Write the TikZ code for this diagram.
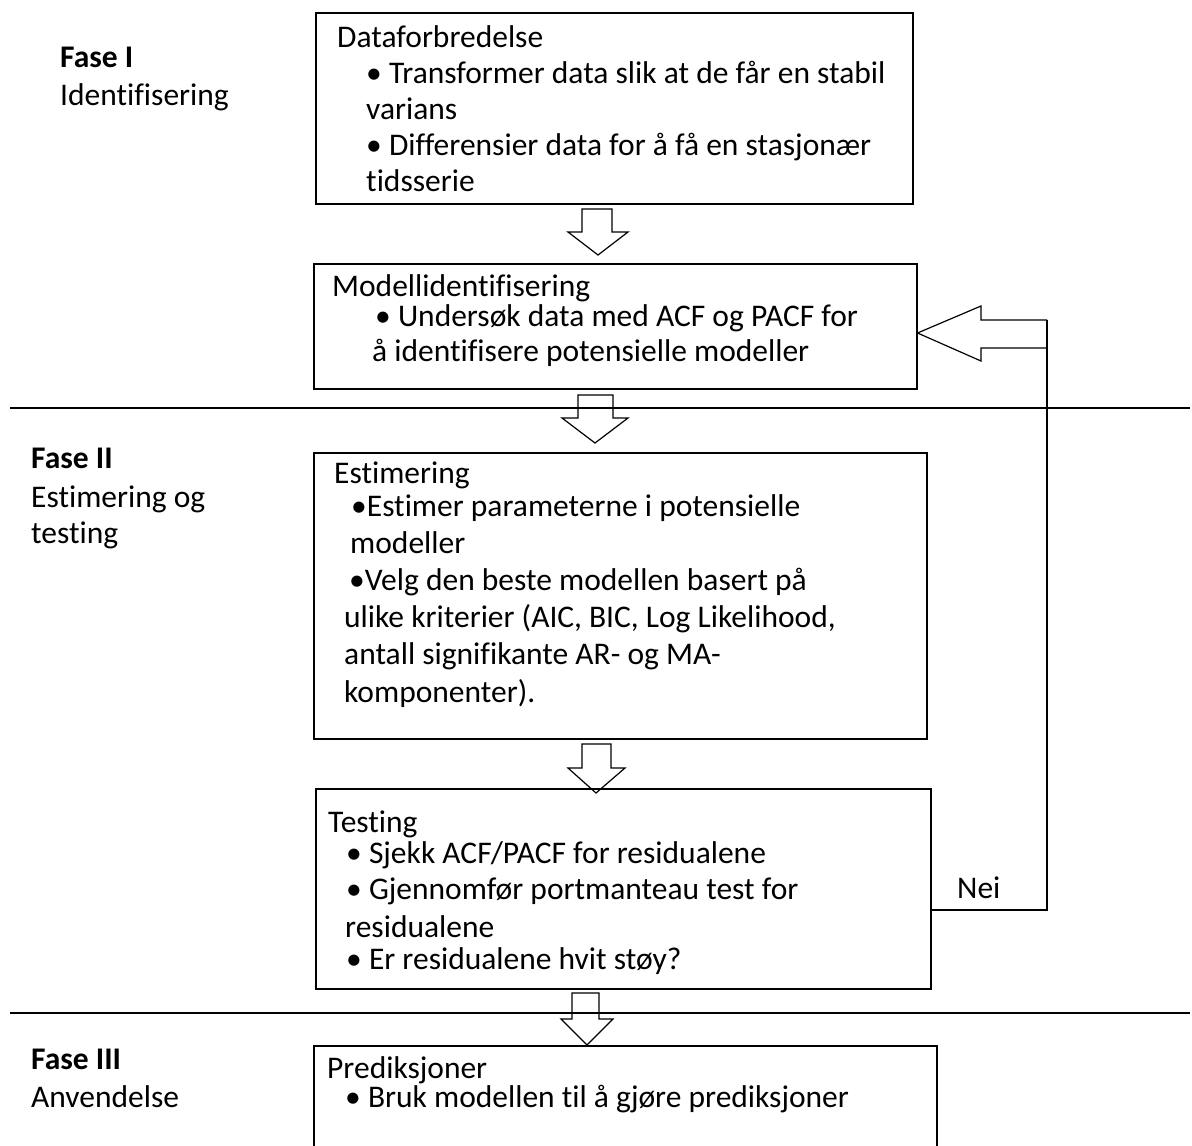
\documentclass[tikz,border=0pt]{standalone}
\usepackage{fontspec}
\setmainfont{Carlito}[Ligatures={NoCommon}]
\newcommand\fsz{\fontsize{31.5}{37}\selectfont}
\begin{document}
\begin{tikzpicture}[x=1pt,y=-1pt,
  box/.style={draw, line width=1.5pt, inner sep=0pt, anchor=north west},
  txt/.style={anchor=base west, inner sep=0pt, font=\fsz},
  lbl/.style={anchor=base west, inner sep=0pt, font=\fsz},
  blk/.style={draw, line width=1.2pt, line join=miter},
  divider/.style={draw, line width=1.3pt}]
\useasboundingbox (0,0) rectangle (1192,1146);
% boxes
\node[box, minimum width=597pt, minimum height=191pt] (b1) at (315,12) {};
\node[box, minimum width=603pt, minimum height=125pt] (b2) at (313,263) {};
\node[box, minimum width=613pt, minimum height=286pt] (b3) at (313,452) {};
\node[box, minimum width=615pt, minimum height=200pt] (b4) at (315,788) {};
\node[box, minimum width=623pt, minimum height=130pt] (b5) at (313,1045) {};
% dividers
\coordinate (d1l) at (10,408); \coordinate (d1r) at (1190,408);
\coordinate (d2l) at (10,1013); \coordinate (d2r) at (1190,1013);
\draw[divider] (d1l) -- (d1r);
\draw[divider] (d2l) -- (d2r);
% left labels
\node[lbl] (f1) at (60,67) {\bfseries Fase I};
\node[lbl] (f1b) at (60,105) {Identifisering};
\node[lbl] (f2) at (31,468) {\bfseries Fase II};
\node[lbl] (f2b) at (31,507) {Estimering og};
\node[lbl] (f2c) at (31,543) {testing};
\node[lbl] (f3) at (31,1069) {\bfseries Fase III};
\node[lbl] (f3b) at (31,1107) {Anvendelse};
% box 1 text
\node[txt] (t1a) at (337,47) {Dataforbredelse};
\node[txt] (t1b) at (366,83) {• Transformer data slik at de får en stabil};
\node[txt] (t1c) at (366,119) {varians};
\node[txt] (t1d) at (366,155) {• Differensier data for å få en stasjonær};
\node[txt] (t1e) at (366,191) {tidsserie};
% box 2 text
\node[txt] (t2a) at (332,296) {Modellidentifisering};
\node[txt] (t2b) at (375,326) {• Undersøk data med ACF og PACF for};
\node[txt] (t2c) at (372,361) {å identifisere potensielle modeller};
% box 3 text
\node[txt] (t3a) at (334,483) {Estimering};
\node[txt] (t3b) at (351,516) {•Estimer parameterne i potensielle};
\node[txt] (t3c) at (350,553) {modeller};
\node[txt] (t3d) at (349,590) {•Velg den beste modellen basert på};
\node[txt] (t3e) at (344,627) {ulike kriterier (AIC, BIC, Log Likelihood,};
\node[txt] (t3f) at (344,664) {antall signifikante AR- og MA-};
\node[txt] (t3g) at (344,702) {komponenter).};
% box 4 text
\node[txt] (t4a) at (328,832) {Testing};
\node[txt] (t4b) at (346,863) {• Sjekk ACF/PACF for residualene};
\node[txt] (t4c) at (346,899) {• Gjennomfør portmanteau test for};
\node[txt] (t4d) at (345,937) {residualene};
\node[txt] (t4e) at (346,969) {• Er residualene hvit støy?};
% box 5 text
\node[txt] (t5a) at (327,1078) {Prediksjoner};
\node[txt] (t5b) at (345,1107) {• Bruk modellen til å gjøre prediksjoner};
% Nei
\node[txt] (nei) at (957,898) {Nei};
% block arrows
\draw[blk] (582,209) -- (612,209) -- (612,232) -- (628,232) -- (598,255) -- (568,232) -- (582,232) -- cycle;
\draw[blk] (578,395) -- (613,395) -- (613,418) -- (628,418) -- (595,443) -- (562,418) -- (578,418) -- cycle;
\draw[blk] (582,744) -- (611,744) -- (611,768) -- (625,768) -- (596,793) -- (568,768) -- (582,768) -- cycle;
\draw[blk] (572,993) -- (599,993) -- (599,1019) -- (613,1019) -- (587,1045) -- (561,1019) -- (572,1019) -- cycle;
% feedback
\coordinate (fbA) at (b4.east |- 0,910);
\coordinate (fbB) at (1047,910);
\coordinate (fbC) at (1047,320);
\coordinate (fbTip) at (b2.east |- 0,333);
\draw[blk, line width=1.5pt] (fbA) -- (fbB) -- (fbC);
\draw[blk] (fbC) -- (981,320) -- (981,306) -- (fbTip) -- (981,361) -- (981,348) -- (1047,348);
\end{tikzpicture}
\end{document}
